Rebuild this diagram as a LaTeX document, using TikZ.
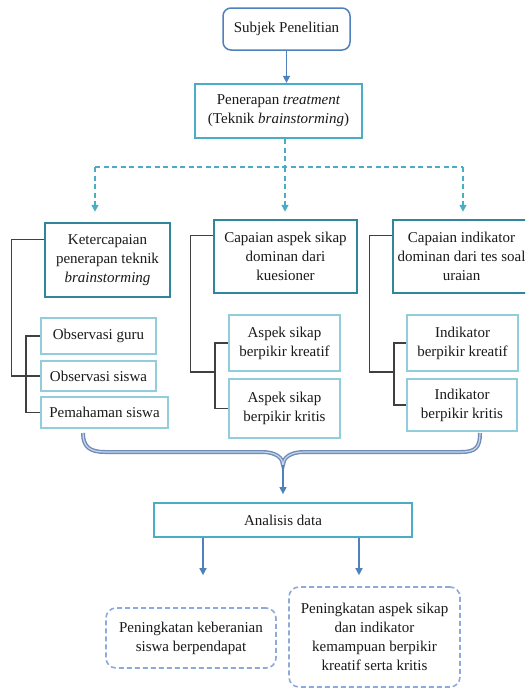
\documentclass[tikz,border=0pt]{standalone}
\usepackage{fontspec}
\setmainfont{Liberation Serif}
\usetikzlibrary{arrows.meta,calc}
\definecolor{blueA}{HTML}{4F81BD}
\definecolor{tealA}{HTML}{31859C}
\definecolor{tealB}{HTML}{4BACC6}
\definecolor{tealC}{HTML}{92CDDC}
\definecolor{dashC}{HTML}{8EAADB}
\definecolor{braceC}{HTML}{6F8DBA}
\definecolor{braceD}{HTML}{C9D6EA}
\definecolor{txtC}{HTML}{1A1A1A}
\newcommand\fs{\fontsize{15}{19}\selectfont}
\tikzset{
  base/.style={draw, align=center, inner sep=0pt, font=\fs, text=txtC},
  subjbox/.style={base, draw=blueA, line width=1.5pt, rounded corners=8pt},
  penbox/.style={base, draw=tealB, line width=2.2pt},
  mainbox/.style={base, draw=tealA, line width=2.5pt},
  subbox/.style={base, draw=tealC, line width=2pt},
  anbox/.style={base, draw=tealB, line width=1.8pt},
  dashbox/.style={base, draw=dashC, line width=1.6pt, dash pattern=on 5pt off 3pt, rounded corners=10pt},
  bluearrow/.style={draw=blueA, line width=1.4pt, -{Triangle[length=7pt,width=7pt]}},
  dashline/.style={draw=tealB, line width=1.4pt, dash pattern=on 5pt off 3.5pt},
  dasharrow/.style={dashline, -{Triangle[length=7pt,width=7pt]}},
  bracket/.style={draw=black!75, line width=1.4pt},
  bracestyle/.style={draw=braceC, line width=1.4pt, double=braceD, double distance=1.2pt}
}
\begin{document}
\begin{tikzpicture}[x=1pt,y=-1pt]
\useasboundingbox (0,0) rectangle (525,688);
\clip (0,0) rectangle (525,688);
\fill[white] (0,0) rectangle (525,688);

% boxes
\node[subjbox, minimum width=127pt, minimum height=42pt] (subj) at (286.5,29) {Subjek Penelitian};
\node[penbox, minimum width=167pt, minimum height=54pt] (pen) at (278.5,111) {Penerapan \textit{treatment}\\(Teknik \textit{brainstorming})};

\node[mainbox, minimum width=125pt, minimum height=74pt] (ket) at (107.5,260) {Ketercapaian\\penerapan teknik\\\textit{brainstorming}};
\node[mainbox, minimum width=143pt, minimum height=73pt] (cap1) at (285.5,256.5) {Capaian aspek sikap\\dominan dari\\kuesioner};
\node[mainbox, minimum width=137pt, minimum height=73pt] (cap2) at (461.5,256.5) {Capaian indikator\\dominan dari tes soal\\uraian};

\node[subbox, minimum width=115pt, minimum height=36pt] (obs1) at (98.5,336) {Observasi guru};
\node[subbox, minimum width=115pt, minimum height=30pt] (obs2) at (98.5,376) {Observasi siswa};
\node[subbox, minimum width=127pt, minimum height=31pt] (pem) at (104.5,412.5) {Pemahaman siswa};

\node[subbox, minimum width=111pt, minimum height=56pt] (asp1) at (284.5,343) {Aspek sikap\\berpikir kreatif};
\node[subbox, minimum width=111pt, minimum height=59pt] (asp2) at (284.5,408.5) {Aspek sikap\\berpikir kritis};

\node[subbox, minimum width=111pt, minimum height=56pt] (ind1) at (462.5,343) {Indikator\\berpikir kreatif};
\node[subbox, minimum width=110pt, minimum height=52pt] (ind2) at (462,405) {Indikator\\berpikir kritis};

\node[anbox, minimum width=258pt, minimum height=34pt] (anal) at (283,520) {Analisis data};

\node[dashbox, minimum width=170pt, minimum height=60pt] (peng1) at (191,638) {Peningkatan keberanian\\siswa berpendapat};
\node[dashbox, minimum width=171pt, minimum height=100pt] (peng2) at (374.5,637) {Peningkatan aspek sikap\\dan indikator\\kemampuan berpikir\\kreatif serta kritis};

% top connectors
\coordinate (top) at (286.5,0);
\draw[bluearrow] (top |- subj.south) -- (top |- pen.north);

\coordinate (hub) at (285,167);
\coordinate (hl) at (95,167);
\coordinate (hr) at (463,167);
\draw[dashline] (hub |- pen.south) -- (hub);
\draw[dashline] (hl) -- (hr);
\draw[dasharrow, shorten >=10pt] (hl) -- (hl |- ket.north);
\draw[dasharrow, shorten >=7pt] (hub) -- (hub |- cap1.north);
\draw[dasharrow, shorten >=7pt] (hr) -- (hr |- cap2.north);

% brackets group 1
\draw[bracket] ($(ket.north west)+(0,18)$) -- ++(-32,0) |- (obs2.west);
\draw[bracket] (obs1.west) -- ++(-14,0) |- (pem.west);

% group 2
\coordinate (v2) at ($(asp1.west)+(-13,0)$);
\draw[bracket] ($(cap1.north west)+(0,17)$) -- ++(-22,0) |- (v2 |- asp1.south);
\draw[bracket] (asp1.west) -- (v2) |- (asp2.west);

% group 3
\coordinate (v3) at ($(ind1.west)+(-12,0)$);
\draw[bracket] ($(cap2.north west)+(0,17)$) -- ++(-22,0) |- (v3 |- ind1.south);
\draw[bracket] (ind1.west) -- (v3) |- (ind2.west);

% brace
\coordinate (bl) at (83,433);
\coordinate (br) at (480,433);
\coordinate (btip) at (283,465);
\draw[bracestyle] (bl) .. controls (83,447) and (90,452) .. (105,452) -- (262,452)
  .. controls (276,452) and (283,458) .. (btip)
  .. controls (283,458) and (290,452) .. (304,452) -- (461,452)
  .. controls (476,452) and (480,447) .. (br);

\draw[bluearrow, shorten >=8pt] (btip) -- (btip |- anal.north);

% lower arrows
\coordinate (a1) at (203,0);
\coordinate (a2) at (359,0);
\draw[bluearrow, shorten >=32pt] (a1 |- anal.south) -- (a1 |- peng1.north);
\draw[bluearrow, shorten >=11pt] (a2 |- anal.south) -- (a2 |- peng2.north);
\end{tikzpicture}
\end{document}
